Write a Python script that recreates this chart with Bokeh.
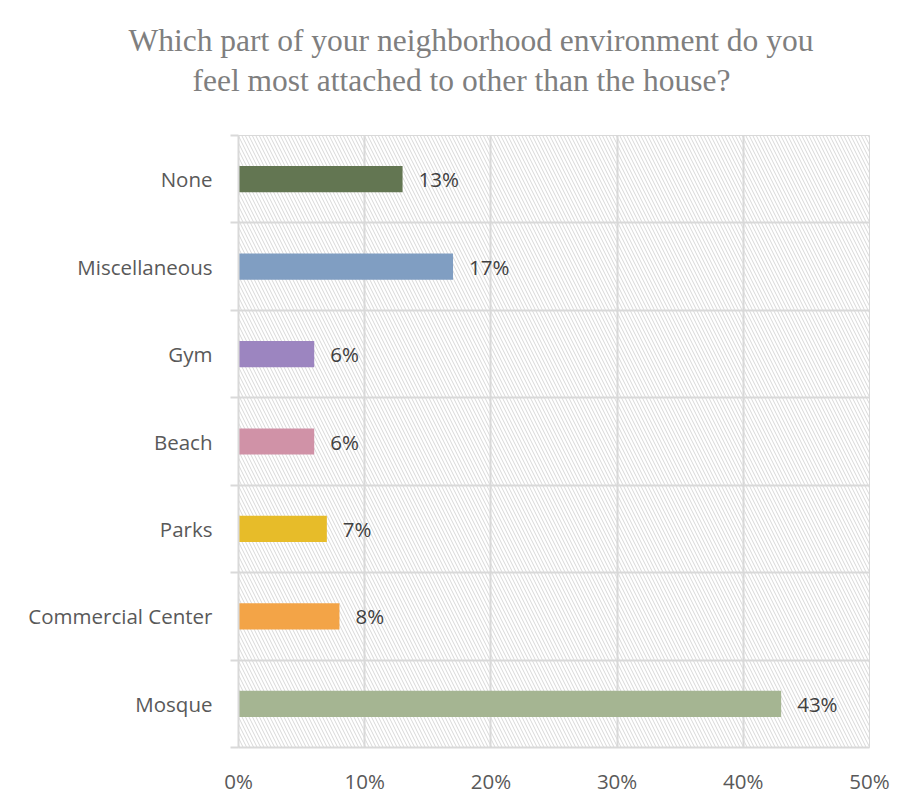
from bokeh.plotting import figure
from bokeh.models import (Range1d, FixedTicker, LinearAxis, BoxAnnotation, Title,
                          PrintfTickFormatter, ColumnDataSource)
from bokeh.embed import file_html
from bokeh.resources import INLINE
from bokeh.core.properties import value

# ---- data (bottom to top) ----
categories = ["Mosque", "Commercial Center", "Parks", "Beach", "Gym", "Miscellaneous", "None"]
percent = [43, 8, 7, 6, 6, 17, 13]
colors = ["#A5B592", "#F3A447", "#E7BC29", "#D092A7", "#9C85C0", "#809EC2", "#637652"]
x_ticks = [0, 10, 20, 30, 40, 50]
title_lines = ["Which part of your neighborhood environment do you",
               "feel most attached to other than the house?"]

ypos = [i + 0.5 for i in range(len(categories))]
src = ColumnDataSource(dict(cat=categories, y=ypos, v=percent, c=colors,
                            lab=[f"{v}%" for v in percent]))

W, H = 899, 798
BL, BR, BT, BB = 238, 30, 135, 51
p = figure(width=W, height=H, output_backend="svg", toolbar_location=None, title=None,
           x_range=Range1d(0, 50), y_range=Range1d(0, len(categories)),
           y_axis_location=None, x_axis_location=None,
           min_border_left=BL, min_border_right=BR, min_border_top=BT, min_border_bottom=BB)
p.background_fill_color = "white"
p.outline_line_color = "#D9D9D9"
p.outline_line_width = 1

FONT = "Open Sans"
FS = "20.5px"
GRID = "#D9D9D9"

# title: two lines, second line closest to the frame
title_offsets = [-110, -46]
title_standoffs = [-70, 76]
for i in (1, 0):
    p.add_layout(Title(text=title_lines[i], align="left", offset=title_offsets[i],
                       standoff=title_standoffs[i],
                       text_font="Liberation Serif", text_font_size="31.5px",
                       text_font_style="normal", text_color="#7F7F7F"), "above")

# hatch background
hatch = BoxAnnotation(fill_color=None, fill_alpha=0, line_color=None,
                      hatch_pattern="\\", hatch_color="#D8D8D8", hatch_scale=7,
                      hatch_weight=1, level="image")
p.add_layout(hatch)

p.xgrid.ticker = FixedTicker(ticks=x_ticks)
p.xgrid.grid_line_color = GRID
p.xgrid.grid_line_width = 2
p.ygrid.ticker = FixedTicker(ticks=list(range(len(categories) + 1)))
p.ygrid.grid_line_color = GRID
p.ygrid.grid_line_width = 2

# x axis
xax = LinearAxis(ticker=FixedTicker(ticks=x_ticks), formatter=PrintfTickFormatter(format="%d%%"))
xax.axis_line_color = GRID
xax.axis_line_width = 2
xax.major_tick_line_color = None
xax.minor_tick_line_color = None
xax.major_label_standoff = 13
xax.major_label_text_font = FONT
xax.major_label_text_font_size = FS
xax.major_label_text_color = "#595959"
p.add_layout(xax, "below")

# y boundary ticks axis (inner)
ytk = LinearAxis(ticker=FixedTicker(ticks=list(range(len(categories) + 1))))
ytk.axis_line_color = GRID
ytk.axis_line_width = 2
ytk.major_tick_line_color = GRID
ytk.major_tick_line_width = 2
ytk.major_tick_out = 8
ytk.major_tick_in = 0
ytk.minor_tick_line_color = None
ytk.major_label_overrides = {i: "" for i in range(len(categories) + 1)}
ytk.major_label_standoff = 0
ytk.major_label_text_font_size = "1px"
p.add_layout(ytk, "left")

# y labels axis (outer)
ylab = LinearAxis(ticker=FixedTicker(ticks=ypos))
ylab.major_label_overrides = {y: c for y, c in zip(ypos, categories)}
ylab.axis_line_color = None
ylab.major_tick_line_color = None
ylab.minor_tick_line_color = None
ylab.major_label_standoff = 12
ylab.major_label_text_font = FONT
ylab.major_label_text_font_size = FS
ylab.major_label_text_color = "#595959"
p.add_layout(ylab, "left")

# bars
p.hbar(y="y", left=0, right="v", height=0.3, fill_color="c", line_color=None, source=src)
p.text(x="v", y="y", text="lab", x_offset=16, text_baseline="middle", text_align="left",
       text_font=value(FONT), text_font_size=FS, text_color="#404040", source=src)

open("out.html", "w").write(file_html(p, INLINE))
